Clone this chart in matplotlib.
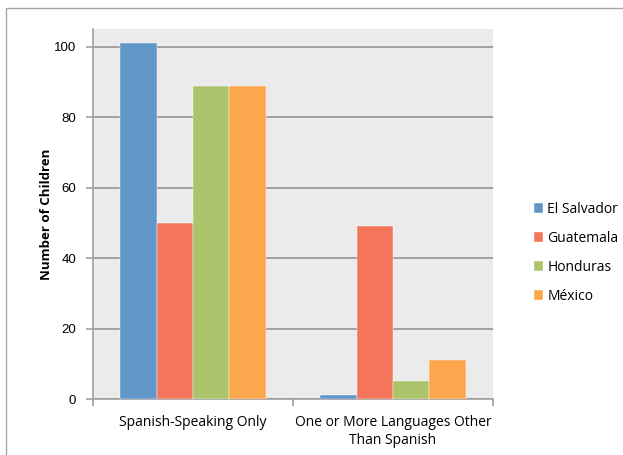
import numpy as np
from matplotlib import pyplot as plt
from matplotlib.patches import Rectangle

categories = ['Spanish-Speaking Only', 'One or More Languages Other\nThan Spanish']
countries = ['El Salvador', 'Guatemala', 'Honduras', 'México']
el_salvador = [101, 1]
guatemala = [50, 49]
honduras = [89, 5]
mexico = [89, 11]
y_ticks = [0, 20, 40, 60, 80, 100]

series = [el_salvador, guatemala, honduras, mexico]
colors = ['#6096c8', '#f4755a', '#abc46b', '#fca64e']

W, H = 623, 455
fig = plt.figure(figsize=(W / 100, H / 100), dpi=100)
ax = fig.add_axes([93 / W, 1 - 399 / H, 400 / W, 370 / H])
ax.set_facecolor('#ebebeb')

# outer chart frame, cut by the right and bottom edge of the image
fig.patches.append(Rectangle((6 / W, -0.1), 1.2, 1 - 8 / H + 0.1, transform=fig.transFigure,
                             fill=False, edgecolor='#a6a6a6', linewidth=1.0))

x = np.arange(len(categories))
bar_w = 1 / 5.5
for i, (name, vals, col) in enumerate(zip(countries, series, colors)):
    ax.bar(x + (i - 1.5) * bar_w, vals, bar_w, color=col, label=name, zorder=3,
           edgecolor='white', linewidth=0.3)

ax.set_xlim(-0.5, 1.5)
ax.set_ylim(0, 105.1)
ax.set_yticks(y_ticks)
ax.yaxis.grid(True, color='#a0a0a0', linewidth=1.4, zorder=1)
ax.set_axisbelow(True)

for side in ['top', 'right']:
    ax.spines[side].set_visible(False)
for side in ['left', 'bottom']:
    ax.spines[side].set_color('#a0a0a0')
    ax.spines[side].set_linewidth(1.2)

ax.tick_params(axis='y', length=5, width=1.2, color='#a0a0a0', labelsize=9.5, pad=7)
ax.set_yticklabels([str(t) for t in y_ticks], family='Liberation Sans')
ax.set_xticks([-0.5, 0.5, 1.5])
ax.set_xticklabels([])
ax.tick_params(axis='x', length=5, width=1.2, color='#a0a0a0')
for xi, label in zip(x, categories):
    ax.text(xi, -4.5, label, ha='center', va='top', fontsize=10, family='Open Sans',
            linespacing=1.25, transform=ax.transData)

ax.set_ylabel('Number of Children', fontsize=9.5, fontweight='bold', family='Open Sans', labelpad=1)

leg = ax.legend(loc='center left', bbox_to_anchor=(1.07, 0.395), frameon=False,
                handlelength=0.7, handleheight=0.7, handletextpad=0.3, labelspacing=1.0,
                prop={'family': 'Open Sans', 'size': 10})

fig.savefig('out.png', dpi=100)
